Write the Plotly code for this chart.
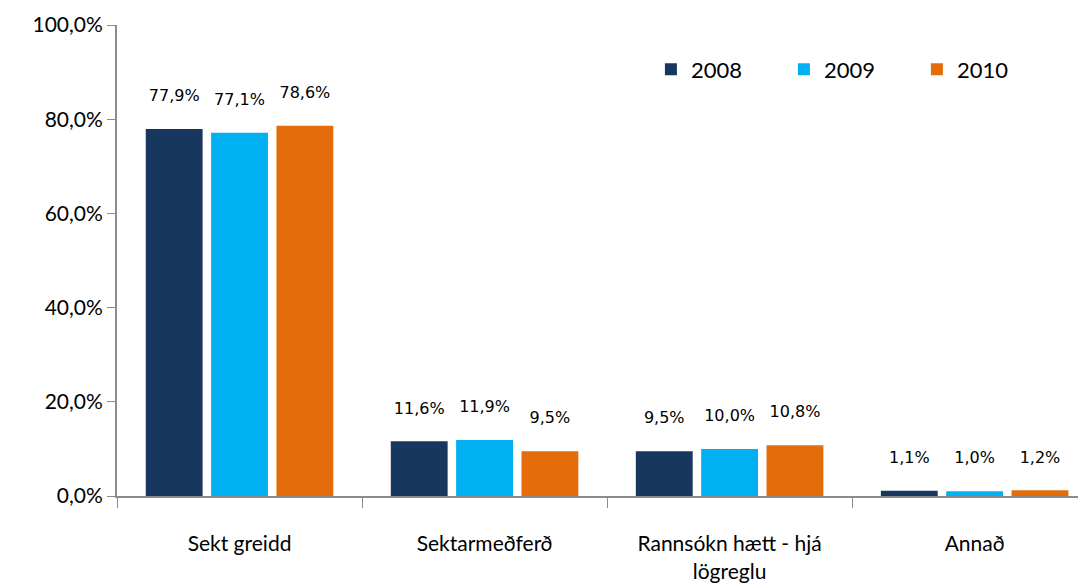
import plotly.graph_objects as go

categories = ["Sekt greidd", "Sektarmeðferð", "Rannsókn hætt - hjá<br>lögreglu", "Annað"]
years = ["2008", "2009", "2010"]
v2008 = [77.9, 11.6, 9.5, 1.1]
v2009 = [77.1, 11.9, 10.0, 1.0]
v2010 = [78.6, 9.5, 10.8, 1.2]
colors = ["#17375E", "#00B0F0", "#E46C0A"]

FONT = "Lato, Open Sans, sans-serif"

fig = go.Figure()
for name, vals, col in zip(years, [v2008, v2009, v2010], colors):
    fig.add_trace(go.Bar(
        x=categories, y=[v / 100 for v in vals], name=name,
        marker=dict(color=col, line=dict(width=0)),
        text=[f"{v:.1f}%".replace(".", ",") + "<br> " for v in vals],
        textposition="outside", cliponaxis=False,
        textfont=dict(size=16, color="#000000", family="DejaVu Sans, sans-serif"),
    ))

fig.update_layout(
    width=1086, height=585,
    paper_bgcolor="white", plot_bgcolor="white",
    margin=dict(l=109, r=14, t=17, b=97, autoexpand=False),
    barmode="group", bargap=0.2, bargroupgap=0.13,
    separators=",.",
    font=dict(family=FONT, size=21, color="#000000"),
    legend=dict(orientation="h", xref="container", yref="container",
                x=0.592, y=0.895, xanchor="left", yanchor="middle",
                font=dict(size=22, family=FONT), entrywidth=88, entrywidthmode="pixels",
                bgcolor="rgba(0,0,0,0)", itemwidth=30),
    xaxis=dict(range=[-0.5, 3.43], showline=True, linecolor="#8C8C8C", linewidth=2,
               ticks="outside", tickson="boundaries", ticklen=10, tickcolor="#8C8C8C",
               ticklabelstandoff=28, tickfont=dict(size=21, family=FONT), automargin=False),
    yaxis=dict(range=[0, 1], tickformat=".1%", dtick=0.2, showgrid=False,
               showline=True, linecolor="#8C8C8C", linewidth=2,
               ticks="outside", ticklen=8, tickcolor="#8C8C8C",
               tickfont=dict(size=21, family=FONT), zeroline=False, automargin=False),
)

fig.write_html("out.html")
